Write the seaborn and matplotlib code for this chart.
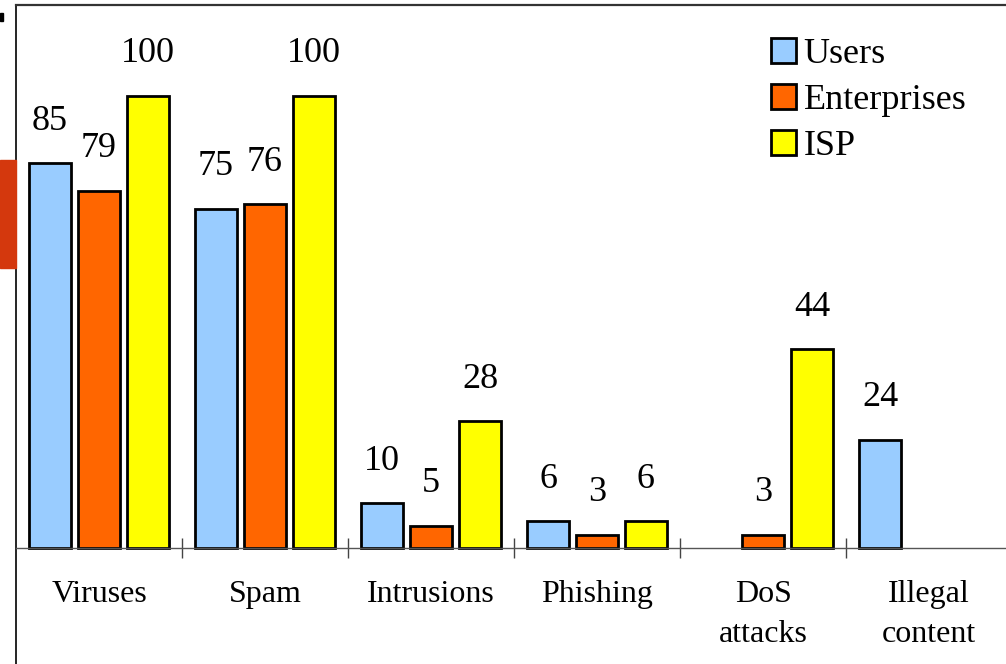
import pandas as pd
import matplotlib.pyplot as plt
import matplotlib.patches as mpatches
import seaborn as sns
import numpy as np

# --- Data ---
categories = ["Viruses", "Spam", "Intrusions", "Phishing", "DoS\nattacks", "Illegal\ncontent"]
series = ["Users", "Enterprises", "ISP"]
users = [85, 75, 10, 6, np.nan, 24]
enterprises = [79, 76, 5, 3, 3, np.nan]
isp = [100, 100, 28, 6, 44, np.nan]
colors = ["#99CCFF", "#FF6600", "#FFFF00"]

rows = []
for name, vals in zip(series, [users, enterprises, isp]):
    for cat, v in zip(categories, vals):
        rows.append({"category": cat, "series": name, "value": v})
df = pd.DataFrame(rows).dropna()

# --- Style ---
sns.set_style("white")
plt.rcParams['font.family'] = ['Liberation Serif', 'DejaVu Serif']
plt.rcParams['text.color'] = 'black'
plt.rcParams['xtick.color'] = 'black'

W, H = 1006, 664
fig = plt.figure(figsize=(W / 100, H / 100), dpi=100)
ax = fig.add_axes([16 / W, 0, 996 / W, 1 - 5 / H])

sns.barplot(data=df, x="category", y="value", hue="series",
            order=categories, hue_order=series, palette=colors,
            width=0.885, gap=0.14, edgecolor="black", linewidth=2,
            saturation=1, ax=ax)

ax.set_xlim(-0.5, 5.5)
ax.set_ylim(-25.6, 120)
ax.set_xlabel("")
ax.set_ylabel("")
ax.set_yticks([])

# value labels above bars
for cont in ax.containers:
    for bar in cont:
        h = bar.get_height()
        if np.isnan(h):
            continue
        ax.annotate(f"{int(h)}", (bar.get_x() + bar.get_width() / 2, h),
                    xytext=(0, 24), textcoords="offset points",
                    ha="center", va="baseline", fontsize=26, color="black")

# axes styling: baseline at zero, separators between groups
ax.spines['right'].set_visible(False)
ax.spines['bottom'].set_position(('data', 0))
ax.spines['bottom'].set_color('#555555')
ax.spines['bottom'].set_linewidth(1.0)
ax.spines['top'].set_color('#333333')
ax.spines['top'].set_linewidth(1.6)
ax.spines['left'].set_color('black')
ax.spines['left'].set_linewidth(1.2)

ax.set_xticks(range(len(categories)))
ax.set_xticklabels(categories, fontsize=23, linespacing=1.5, color="black")
ax.tick_params(axis='x', which='major', length=0, pad=23, bottom=True)
ax.set_xticks(np.arange(0.5, len(categories) - 1, 1.0), minor=True)
ax.tick_params(axis='x', which='minor', direction='inout', length=15,
               width=1.0, color='#444444', bottom=True)

# legend
handles, labels = ax.get_legend_handles_labels()
for hd in handles:
    hd.set_edgecolor('black')
    hd.set_linewidth(2)
ax.legend(handles, labels, loc='upper left', bbox_to_anchor=(771 / W, 1 - 38 / H),
          bbox_transform=fig.transFigure, frameon=False, fontsize=26,
          handlelength=0.68, handleheight=0.68, handletextpad=0.22,
          labelspacing=0.36, borderpad=0, borderaxespad=0, labelcolor='black')

# slide decorations on the left edge
fig.patches.append(mpatches.Rectangle((0, 1 - 268 / H), 16 / W, 108 / H,
                                      transform=fig.transFigure, color='#D4380D'))
fig.patches.append(mpatches.Rectangle((0, 1 - 21 / H), 3 / W, 8 / H,
                                      transform=fig.transFigure, color='black'))

fig.savefig("out.png", dpi=100)
